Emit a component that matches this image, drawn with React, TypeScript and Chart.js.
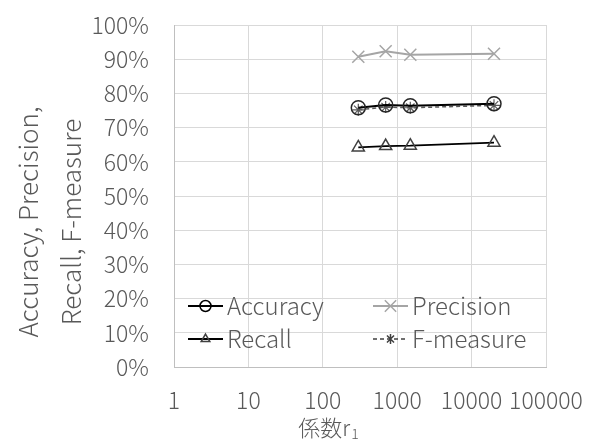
import React, { useEffect, useRef } from "react";
import { Chart, registerables } from "chart.js";

Chart.register(...registerables);

const xValues = [300, 700, 1500, 20000];
const accuracy = [75.8, 76.6, 76.4, 77.0];
const precision = [90.7, 92.3, 91.3, 91.6];
const recall = [64.2, 64.6, 64.7, 65.6];
const fMeasure = [75.2, 76.0, 75.8, 76.5];
const xTicks = [1, 10, 100, 1000, 10000, 100000];
const yTitleLines = ["Accuracy, Precision,", "Recall, F-measure"];
const xTitle = "係数r";
const xTitleSub = "1";
const legendLabels = ["Accuracy", "Precision", "Recall", "F-measure"];

const FONT = '"Noto Sans CJK JP", "Open Sans", sans-serif';
const TEXT = "#595959";

function drawMarker(ctx: CanvasRenderingContext2D, style: string, x: number, y: number, r: number, color: string, lw: number) {
  ctx.save();
  ctx.strokeStyle = color;
  ctx.lineWidth = lw;
  ctx.setLineDash([]);
  ctx.beginPath();
  if (style === "circle") {
    ctx.arc(x, y, r, 0, Math.PI * 2);
  } else if (style === "triangle") {
    const h = r * Math.sin(Math.PI / 3);
    ctx.moveTo(x, y - r);
    ctx.lineTo(x + h, y + r / 2);
    ctx.lineTo(x - h, y + r / 2);
    ctx.closePath();
  } else if (style === "crossRot") {
    const d = r * Math.SQRT1_2;
    ctx.moveTo(x - d, y - d);
    ctx.lineTo(x + d, y + d);
    ctx.moveTo(x - d, y + d);
    ctx.lineTo(x + d, y - d);
  } else if (style === "star") {
    const d = r * Math.SQRT1_2;
    ctx.moveTo(x - d, y - d);
    ctx.lineTo(x + d, y + d);
    ctx.moveTo(x - d, y + d);
    ctx.lineTo(x + d, y - d);
    ctx.moveTo(x, y - r);
    ctx.lineTo(x, y + r);
  }
  ctx.stroke();
  ctx.restore();
}

const overlayPlugin = {
  id: "overlay",
  afterDraw(chart: any) {
    const ctx: CanvasRenderingContext2D = chart.ctx;
    ctx.save();
    // Y axis title
    ctx.fillStyle = TEXT;
    ctx.font = `300 26px ${FONT}`;
    ctx.textAlign = "center";
    ctx.textBaseline = "middle";
    const cy = 222;
    const xs = [28, 71];
    yTitleLines.forEach((line, i) => {
      ctx.save();
      ctx.translate(xs[i], cy);
      ctx.rotate(-Math.PI / 2);
      ctx.fillText(line, 0, 0);
      ctx.restore();
    });
    // X axis title
    ctx.font = `300 22px ${FONT}`;
    const mainW = ctx.measureText(xTitle).width;
    ctx.font = `300 14px ${FONT}`;
    const subW = ctx.measureText(xTitleSub).width;
    const startX = 328 - (mainW + subW) / 2;
    ctx.textAlign = "left";
    ctx.font = `300 22px ${FONT}`;
    ctx.fillText(xTitle, startX, 428);
    ctx.font = `300 14px ${FONT}`;
    ctx.fillText(xTitleSub, startX + mainW + 1, 434);

    // Legend
    const items = [
      { label: legendLabels[0], x0: 188, y: 306, color: "#000000", marker: "circle", mr: 5.5, dash: [] as number[], lw: 2, mc: "#000000" },
      { label: legendLabels[1], x0: 373, y: 306, color: "#a5a5a5", marker: "crossRot", mr: 8, dash: [] as number[], lw: 2, mc: "#a5a5a5" },
      { label: legendLabels[2], x0: 188, y: 339, color: "#000000", marker: "triangle", mr: 5, dash: [] as number[], lw: 2, mc: "#404040" },
      { label: legendLabels[3], x0: 373, y: 339, color: "#404040", marker: "star", mr: 5, dash: [4, 3], lw: 1.5, mc: "#404040" },
    ];
    items.forEach((it) => {
      ctx.save();
      ctx.strokeStyle = it.color;
      ctx.lineWidth = it.lw;
      ctx.setLineDash(it.dash);
      ctx.beginPath();
      ctx.moveTo(it.x0, it.y);
      ctx.lineTo(it.x0 + 35, it.y);
      ctx.stroke();
      ctx.restore();
      drawMarker(ctx, it.marker, it.x0 + 17.5, it.y, it.mr, it.mc, 1.5);
      ctx.fillStyle = TEXT;
      ctx.font = `300 24px ${FONT}`;
      ctx.textAlign = "left";
      ctx.textBaseline = "middle";
      ctx.fillText(it.label, it.x0 + 39, it.y);
    });
    ctx.restore();
  },
};

export default function App() {
  const ref = useRef<HTMLCanvasElement>(null);
  useEffect(() => {
    if (!ref.current) return;
    const toPts = (ys: number[]) => xValues.map((x, i) => ({ x, y: ys[i] }));
    const chart = new Chart(ref.current, {
      type: "line",
      data: {
        datasets: [
          {
            label: "Recall",
            data: toPts(recall),
            borderColor: "#000000",
            borderWidth: 1.75,
            pointStyle: "triangle",
            pointRadius: 7,
            pointBorderColor: "#404040",
            pointBackgroundColor: "rgba(255,255,255,0)",
            pointBorderWidth: 1.5,
          },
          {
            label: "Precision",
            data: toPts(precision),
            borderColor: "#a5a5a5",
            borderWidth: 2,
            pointStyle: "crossRot",
            pointRadius: 8.5,
            pointBorderColor: "#a5a5a5",
            pointBorderWidth: 1.5,
          },
          {
            label: "Accuracy",
            data: toPts(accuracy),
            borderColor: "#000000",
            borderWidth: 2,
            pointStyle: "circle",
            pointRadius: 7,
            pointBorderColor: "#262626",
            pointBackgroundColor: "rgba(255,255,255,0)",
            pointBorderWidth: 1.5,
          },
          {
            label: "F-measure",
            data: toPts(fMeasure),
            borderColor: "#595959",
            borderWidth: 1.5,
            borderDash: [4, 3],
            pointStyle: "star",
            pointRadius: 6,
            pointBorderColor: "#595959",
            pointBorderWidth: 1.2,
          },
        ],
      },
      options: {
        animation: false,
        responsive: false,
        layout: { padding: { top: 25, right: 52, left: 0, bottom: 0 } },
        plugins: { legend: { display: false }, tooltip: { enabled: false } },
        elements: { line: { tension: 0 } },
        scales: {
          x: {
            type: "logarithmic",
            min: 1,
            max: 100000,
            afterBuildTicks: (scale: any) => {
              scale.ticks = xTicks.map((v) => ({ value: v }));
            },
            afterFit: (scale: any) => {
              scale.height = 76;
              scale.paddingLeft = 0;
              scale.paddingRight = 0;
            },
            ticks: {
              autoSkip: false,
              maxRotation: 0,
              padding: 19,
              color: TEXT,
              font: { family: FONT, size: 23, weight: "300" },
              callback: (v: any) => String(v),
            },
            grid: { color: "#d9d9d9", lineWidth: 1, drawTicks: false },
            border: { color: "#bfbfbf", width: 1 },
          },
          y: {
            min: 0,
            max: 100,
            afterFit: (scale: any) => {
              scale.width = 174;
              scale.paddingTop = 0;
              scale.paddingBottom = 0;
            },
            ticks: {
              stepSize: 10,
              padding: 25,
              color: TEXT,
              font: { family: FONT, size: 23, weight: "300" },
              callback: (v: any) => `${v}%`,
            },
            grid: { color: "#d9d9d9", lineWidth: 1, drawTicks: false },
            border: { color: "#bfbfbf", width: 1 },
          },
        },
      },
      plugins: [overlayPlugin],
    } as any);
    return () => chart.destroy();
  }, []);
  return (
    <div style={{ position: "absolute", left: 0, top: 0, width: 598, height: 443, background: "#fff" }}>
      <canvas ref={ref} width={598} height={443} />
    </div>
  );
}
